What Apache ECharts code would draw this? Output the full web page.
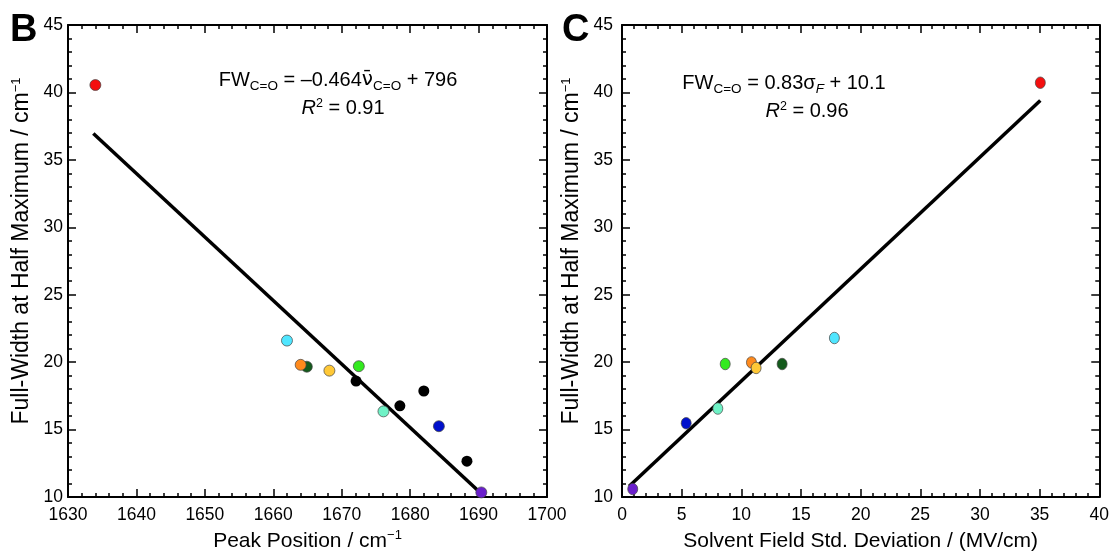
<!DOCTYPE html>
<html>
<head>
<meta charset="utf-8">
<script src="https://cdn.jsdelivr.net/npm/echarts@6/dist/echarts.min.js"></script>
<style>
html,body{margin:0;padding:0;background:#fff;}
#chart{width:1112px;height:558px;}
</style>
</head>
<body>
<div id="chart"></div>
<script>
// ---- Data ----
// Solvent colours (same order in both panels)
const solventColors = ['#f40f0f', '#50e6ff', '#145a1c', '#ff8a1c', '#ffc836', '#33ea1f', '#6ff2c6', '#0010cc', '#6a1fcc'];
// Panel B: peak position vs FWHM (coloured solvents)
const peakB = [1634.0, 1662.0, 1664.9, 1664.0, 1668.2, 1672.5, 1676.1, 1684.2, 1690.4];
const fwhmB = [40.55, 21.6, 19.66, 19.8, 19.37, 19.7, 16.35, 15.25, 10.34];
// Panel B: additional black points
const blackPeakB = [1672.1, 1678.5, 1682.0, 1688.3];
const blackFwhmB = [18.6, 16.76, 17.86, 12.66];
// Panel B fit line endpoints
const fitBx = [1633.7, 1690.3];
const fitBy = [36.95, 10.3];
// Panel C: solvent field std. deviation vs FWHM
const sigmaC = [35.06, 17.8, 13.42, 10.85, 11.24, 8.65, 8.03, 5.38, 0.9];
const fwhmC = [40.72, 21.79, 19.86, 19.98, 19.57, 19.86, 16.56, 15.47, 10.59];
// Panel C fit line endpoints
const fitCx = [0.6, 35.06];
const fitCy = [10.8, 39.4];
// Axis ranges / ticks
const xRangeB = [1630, 1700, 10];
const xRangeC = [0, 40, 5];
const yRange = [10, 45, 5];

// ---- Chart ----
const FONT = 'Liberation Sans, Arial, Helvetica, sans-serif';
const chart = echarts.init(document.getElementById('chart'), null, {renderer: 'canvas'});

function mkAxis(range, gridIndex, position, showLabel, name, nameGap, labelMargin, nameSize, namePad) {
  return {
    type: 'value', gridIndex, position,
    min: range[0], max: range[1], interval: range[2],
    axisLine: {show: true, onZero: false, lineStyle: {color: '#000', width: 2}},
    axisTick: {show: true, inside: true, length: 8, lineStyle: {color: '#000', width: 1.5}},
    minorTick: {show: true, splitNumber: 5, length: 4, lineStyle: {color: '#000', width: 1.5}},
    splitLine: {show: false},
    axisLabel: {show: showLabel, color: '#000', fontSize: 17.5, fontFamily: FONT, margin: labelMargin,
      formatter: v => String(v)},
    name: name || '',
    nameLocation: 'middle',
    nameGap: nameGap,
    nameTextStyle: {
      color: '#000', fontSize: nameSize || 21, fontFamily: FONT, lineHeight: 24,
      padding: namePad || 0,
      rich: {sup: {fontSize: 13, lineHeight: 13, verticalAlign: 'top', fontFamily: FONT, color: '#000'}}
    }
  };
}

const yName = 'Full-Width at Half Maximum / cm{sup|−1}';

const eqRich = {
  n: {fontSize: 20, lineHeight: 27, verticalAlign: 'middle', fontFamily: FONT, fill: '#000'},
  nu: {fontSize: 20, lineHeight: 27, verticalAlign: 'middle', fontFamily: 'DejaVu Sans', fill: '#000'},
  i: {fontSize: 20, lineHeight: 22, verticalAlign: 'middle', fontStyle: 'italic', fontFamily: FONT, fill: '#000'},
  sub: {fontSize: 13.5, lineHeight: 13, verticalAlign: 'bottom', fontFamily: FONT, fill: '#000'},
  subi: {fontSize: 13.5, lineHeight: 13, verticalAlign: 'bottom', fontStyle: 'italic', fontFamily: FONT, fill: '#000'},
  sup: {fontSize: 12.5, lineHeight: 12, verticalAlign: 'top', fontFamily: FONT, fill: '#000'}
};
const r2Rich = {
  n: {fontSize: 20, lineHeight: 22, verticalAlign: 'middle', fontFamily: FONT, fill: '#000'},
  i: {fontSize: 20, lineHeight: 22, verticalAlign: 'middle', fontStyle: 'italic', fontFamily: FONT, fill: '#000'},
  sup: {fontSize: 12.5, lineHeight: 12, verticalAlign: 'top', fontFamily: FONT, fill: '#000'}
};

const option = {
  backgroundColor: '#fff',
  animation: false,
  grid: [
    {left: 68, right: 565, top: 25, bottom: 55},
    {left: 622, right: 12, top: 25, bottom: 55}
  ],
  xAxis: [
    mkAxis(xRangeB, 0, 'bottom', true, 'Peak Position / cm{sup|−1}', 32, 9, 21),
    mkAxis(xRangeB, 0, 'top', false, '', 0, 8),
    mkAxis(xRangeC, 1, 'bottom', true, 'Solvent Field Std. Deviation / (MV/cm)', 32, 9, 21),
    mkAxis(xRangeC, 1, 'top', false, '', 0, 8)
  ],
  yAxis: [
    mkAxis(yRange, 0, 'left', true, yName, 34, 5, 23, [0, 0, 0, 20]),
    mkAxis(yRange, 0, 'right', false, '', 0, 8),
    mkAxis(yRange, 1, 'left', true, yName, 38, 9, 23, [0, 0, 0, 20]),
    mkAxis(yRange, 1, 'right', false, '', 0, 8)
  ],
  series: [
    {
      type: 'line', xAxisIndex: 0, yAxisIndex: 0, z: 1,
      data: fitBx.map((x, i) => [x, fitBy[i]]),
      showSymbol: false, symbol: 'none',
      lineStyle: {color: '#000', width: 3.5}
    },
    {
      type: 'scatter', xAxisIndex: 0, yAxisIndex: 0, z: 2,
      symbolSize: 11,
      itemStyle: {opacity: 1},
      data: blackPeakB.map((x, i) => ({value: [x, blackFwhmB[i]], itemStyle: {color: '#000'}}))
    },
    {
      type: 'scatter', xAxisIndex: 0, yAxisIndex: 0, z: 3,
      symbolSize: 11,
      itemStyle: {borderColor: '#444', borderWidth: 0.7, opacity: 1},
      data: peakB.map((x, i) => ({value: [x, fwhmB[i]], itemStyle: {color: solventColors[i]}}))
    },
    {
      type: 'line', xAxisIndex: 2, yAxisIndex: 2, z: 1,
      data: fitCx.map((x, i) => [x, fitCy[i]]),
      showSymbol: false, symbol: 'none',
      lineStyle: {color: '#000', width: 3.5}
    },
    {
      type: 'scatter', xAxisIndex: 2, yAxisIndex: 2, z: 3,
      symbolSize: [10, 11.5],
      itemStyle: {borderColor: '#444', borderWidth: 0.7, opacity: 1},
      data: sigmaC.map((x, i) => ({value: [x, fwhmC[i]], itemStyle: {color: solventColors[i]}}))
    }
  ],
  graphic: [
    {type: 'text', left: 10, top: 12, style: {text: 'B', font: 'bold 38px ' + FONT, fill: '#000'}},
    {type: 'text', left: 562, top: 12, style: {text: 'C', font: 'bold 38px ' + FONT, fill: '#000'}},
    {
      type: 'text', x: 338, y: 80,
      style: {
        text: '{n|FW}{sub|C=O}{n| = –0.464}{nu|ν̄}{sub|C=O}{n| + 796}',
        align: 'center', verticalAlign: 'middle', rich: eqRich
      }
    },
    {
      type: 'text', x: 343, y: 108,
      style: {text: '{i|R}{sup|2}{n| = 0.91}', align: 'center', verticalAlign: 'middle', rich: r2Rich}
    },
    {
      type: 'text', x: 784, y: 83,
      style: {
        text: '{n|FW}{sub|C=O}{n| = 0.83σ}{subi|F}{n| + 10.1}',
        align: 'center', verticalAlign: 'middle', rich: eqRich
      }
    },
    {
      type: 'text', x: 807, y: 111,
      style: {text: '{i|R}{sup|2}{n| = 0.96}', align: 'center', verticalAlign: 'middle', rich: r2Rich}
    }
  ]
};
chart.setOption(option);
</script>
</body>
</html>
